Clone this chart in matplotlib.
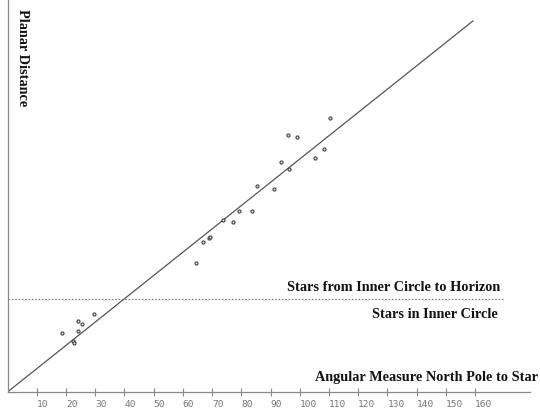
import matplotlib
matplotlib.use("Agg")
import matplotlib.pyplot as plt

# Data
angle = [29.7, 24.2, 25.6, 24.0, 18.8, 22.5, 22.9, 64.4, 67.0, 69.0, 69.3, 73.6,
         77.1, 79.1, 83.8, 85.3, 91.2, 93.6, 96.4, 96.1, 99.2, 105.2, 108.3, 110.4]
planar = [33.5, 30.4, 29.2, 26.3, 25.2, 21.8, 21.0, 55.4, 64.5, 66.1, 66.6, 73.7,
          73.1, 77.8, 77.6, 88.6, 87.2, 98.9, 95.7, 110.3, 109.4, 100.6, 104.3, 117.6]
line_x = [0, 159.3]
line_y = [0, 159.3]
boundary = 40
xticks = [10, 20, 30, 40, 50, 60, 70, 80, 90, 100, 110, 120, 130, 140, 150, 160]

W, H = 540, 410
fig = plt.figure(figsize=(W / 100, H / 100), dpi=100)
ax = fig.add_axes([7.5 / W, 17 / H, (530 - 7.5) / W, 393 / H])
ax.set_xlim(0, 178.8)
ax.set_ylim(0, 168.7)

ax.plot(line_x, line_y, color="#555555", lw=0.9)
ax.plot([0, 170], [boundary, boundary], color="#777777", lw=0.8, ls=(0, (1.5, 1.5)))
ax.scatter(angle, planar, s=5, facecolors="#dddddd", edgecolors="#444444", linewidths=0.8, zorder=3)

for s in ["top", "right"]:
    ax.spines[s].set_visible(False)
for s in ["left", "bottom"]:
    ax.spines[s].set_color("#888888")
    ax.spines[s].set_linewidth(0.9)

ax.set_yticks([])
ax.set_xticks(xticks)
ax.set_xticklabels([str(t) for t in xticks], family="DejaVu Sans Mono", fontsize=6.8,
                   color="#777777", ha="left")
ax.tick_params(axis="x", direction="inout", length=6, width=0.8, color="#888888", pad=2)

serif = dict(family="Liberation Serif", fontweight="bold", fontsize=10.3, color="#111111")
fig.text(22 / W, 1 - 9 / H, "Planar Distance", rotation=270, ha="center", va="top", **serif)
fig.text(500 / W, 1 - 288 / H, "Stars from Inner Circle to Horizon", ha="right", va="center", **serif)
fig.text(498 / W, 1 - 315 / H, "Stars in Inner Circle", ha="right", va="center", **serif)
fig.text(538 / W, 1 - 378 / H, "Angular Measure North Pole to Star", ha="right", va="center", **serif)

fig.savefig("out.png", dpi=100)
